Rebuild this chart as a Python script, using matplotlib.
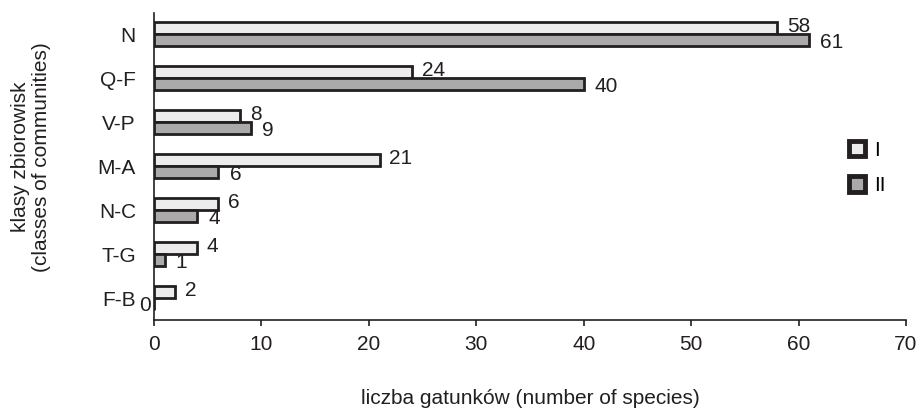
import matplotlib.pyplot as plt
from matplotlib.patches import Patch
import numpy as np

plt.rcParams['font.family'] = ['Liberation Sans', 'DejaVu Sans']

# dane
klasy = ["N", "Q-F", "V-P", "M-A", "N-C", "T-G", "F-B"]
seria_I = [58, 24, 8, 21, 6, 4, 2]
seria_II = [61, 40, 9, 6, 4, 1, 0]
nazwy_serii = ["I", "II"]

kolor_I = "#ececec"
kolor_II = "#aaaaaa"
kolor_krawedzi = "#231f20"
fs = 15

fig = plt.figure(figsize=(9.19, 4.08), dpi=100)
ax = fig.add_axes([154/919, 1-320/408, (906-154)/919, (320-13)/408])

pozycje = np.arange(len(klasy))[::-1]
h = 0.27
ax.barh(pozycje + h/2, seria_I, height=h, color=kolor_I,
        edgecolor=kolor_krawedzi, linewidth=2.0)
ax.barh(pozycje - h/2, seria_II, height=h, color=kolor_II,
        edgecolor=kolor_krawedzi, linewidth=2.0)

# etykiety wartosci
for y, v in zip(pozycje, seria_I):
    ax.annotate(str(v), (v, y + h/2), xytext=(7, 1), textcoords="offset points",
                ha="left", va="center", fontsize=fs, color="#231f20")
for y, v in zip(pozycje, seria_II):
    if v == 0:
        ax.annotate(str(v), (v, y - h/2), xytext=(-2, -1), textcoords="offset points",
                    ha="right", va="center", fontsize=fs, color="#231f20",
                    annotation_clip=False)
    else:
        ax.annotate(str(v), (v, y - h/2), xytext=(8, -2), textcoords="offset points",
                    ha="left", va="center", fontsize=fs, color="#231f20")

ax.set_xlim(0, 70)
ax.set_ylim(-0.5, 6.48)
ax.set_xticks(range(0, 71, 10))
ax.set_yticks(pozycje)
ax.set_yticklabels(klasy)
ax.tick_params(axis="y", length=0, pad=13, labelsize=fs, labelcolor="#231f20")
ax.tick_params(axis="x", length=4, width=1.2, labelsize=fs, direction="out", pad=7,
               color=kolor_krawedzi, labelcolor="#231f20")
for s in ["top", "right"]:
    ax.spines[s].set_visible(False)
for s in ["left", "bottom"]:
    ax.spines[s].set_linewidth(1.2)
    ax.spines[s].set_color(kolor_krawedzi)

fig.text(530/919, 1-399/408, "liczba gatunków (number of species)", fontsize=fs,
         ha="center", va="center", color="#231f20")
fig.text(31/919, 1-157/408, "klasy zbiorowisk\n(classes of communities)", fontsize=fs,
         rotation=90, ha="center", va="center", multialignment="center",
         linespacing=1.1, color="#231f20")

uchwyty = [Patch(facecolor=kolor_I, edgecolor=kolor_krawedzi, linewidth=3.5, joinstyle="round"),
           Patch(facecolor=kolor_II, edgecolor=kolor_krawedzi, linewidth=3.5, joinstyle="round")]
ax.legend(handles=uchwyty, labels=nazwy_serii, loc="center left",
          bbox_to_anchor=(839/919, 1-168/408), bbox_transform=fig.transFigure,
          frameon=False, fontsize=fs, handlelength=0.75, handleheight=0.75,
          labelspacing=0.8, handletextpad=0.45, borderpad=0)

fig.savefig("out.png", dpi=100)
